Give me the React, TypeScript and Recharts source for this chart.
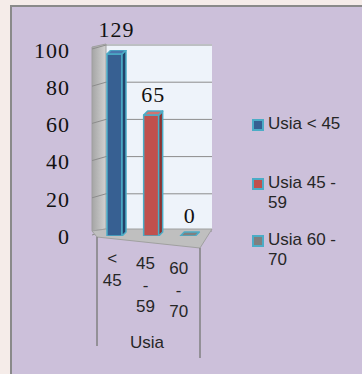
import { BarChart, Bar, XAxis, YAxis, Legend, LabelList, ReferenceArea } from 'recharts'

const categories = ['< 45', '45 - 59', '60 - 70']
const seriesNames = ['Usia < 45', 'Usia 45 - 59', 'Usia 60 - 70']
const seriesValues = [129, 65, 0]
const yTicks = [0, 20, 40, 60, 80, 100]
const axisTitle = 'Usia'

const SANS = "'Liberation Sans', Arial, sans-serif"
const SERIF = "'Liberation Serif', 'Times New Roman', serif"
const EDGE = '#4BACC6'
const PLOT_TOP = 50

const palette = [
  { front: '#376092', side: '#22426A', top: '#4A77AE' },
  { front: '#C0504D', side: '#8C3331', top: '#D27370' },
  { front: '#7F7F7F', side: '#5E5E5E', top: '#808080' },
]

// one row per category, each series only has a value in its own column
const data = categories.map((name, i) => {
  const row: Record<string, string | number | null> = { name }
  seriesNames.forEach((_, j) => {
    row['s' + j] = i === j ? seriesValues[j] : null
  })
  return row
})

function Walls(props: any) {
  const { x, y, width, height } = props
  const B = y + height
  const R = x + width
  const max = yTicks[yTicks.length - 1]
  return (
    <g>
      <defs>
        <linearGradient id="lw" x1="0" y1="0" x2="1" y2="0">
          <stop offset="0%" stopColor="#A5A5A5" />
          <stop offset="100%" stopColor="#D2D2D2" />
        </linearGradient>
      </defs>
      <rect x={x + 10} y={y - 6} width={width - 4} height={height - 1} fill="#EEF3FA" />
      <polygon
        points={`${x - 4},${y - 3} ${x + 10},${y - 6} ${x + 10},${B - 7} ${x - 4},${B - 5}`}
        fill="url(#lw)"
        stroke="#A0A0A0"
      />
      {yTicks.map((t) => {
        const yy = B - (height * t) / max
        return (
          <path
            key={t}
            d={`M${x - 4},${yy - 1} L${x + 10},${yy - 5} L${R + 6},${yy - 5}`}
            fill="none"
            stroke="#8C8C8C"
            strokeWidth={1}
          />
        )
      })}
      <polygon
        points={`${x - 4},${B - 5} ${x + 10},${B - 7} ${R + 6},${B - 7} ${R - 6},${B + 12} ${x + 1},${B + 1}`}
        fill="#BFBFBF"
        stroke="#A0A0A0"
      />
      <line x1={x + 1} y1={B + 1} x2={x + 1} y2={B + 110} stroke="#808080" strokeWidth={1.5} />
      <line x1={R - 6} y1={B + 12} x2={R - 6} y2={B + 122} stroke="#808080" strokeWidth={1.5} />
    </g>
  )
}

function Box3D(props: any) {
  const { x, y, width, height, payload, k, c } = props
  if (payload == null || payload[k] == null) return null
  const d = 4
  // bars above the axis max are cut at the top of the plot, keep the cap visible
  const top = Math.max(y, PLOT_TOP + 4)
  const h = y + height - top
  return (
    <g stroke={EDGE} strokeWidth={1.5} strokeLinejoin="round">
      {h > 0 && <rect x={x} y={top} width={width} height={h} fill={c.front} />}
      {h > 0 && (
        <polygon
          points={`${x + width},${top} ${x + width + d},${top - d} ${x + width + d},${top + h - d} ${x + width},${top + h}`}
          fill={c.side}
        />
      )}
      <polygon
        points={`${x},${top} ${x + d},${top - d} ${x + width + d},${top - d} ${x + width},${top}`}
        fill={c.top}
      />
    </g>
  )
}

function ValueLabel(props: any) {
  const { x, y, width, value } = props
  if (value == null) return null
  const top = Math.max(Number(y), PLOT_TOP)
  return (
    <text
      x={Number(x) + Number(width) / 2 + 2}
      y={top - 21}
      dy="0.35em"
      textAnchor="middle"
      fontFamily={SERIF}
      fontSize={22}
      letterSpacing={1}
      fill="#111"
    >
      {value}
    </text>
  )
}

function YTick(props: any) {
  const { x, y, payload } = props
  return (
    <text x={x} y={y} dy="0.35em" textAnchor="end" fontFamily={SERIF} fontSize={22} letterSpacing={1} fill="#111">
      {payload.value}
    </text>
  )
}

function XTick(props: any) {
  const { x, y, payload, index } = props
  const words = String(payload.value).split(' ')
  const dx = -2 - index * 3.5
  const base = y + 28 + index * 5
  return (
    <text textAnchor="middle" fontFamily={SANS} fontSize={17} fill="#262626">
      {words.map((w, i) => (
        <tspan key={i} x={x + dx} y={base + i * 21.5}>
          {w}
        </tspan>
      ))}
    </text>
  )
}

function AxisTitle(props: any) {
  const { viewBox } = props
  return (
    <text
      x={viewBox.x + viewBox.width / 2 - 4}
      y={viewBox.y + 112}
      textAnchor="middle"
      fontFamily={SANS}
      fontSize={17}
      fill="#262626"
    >
      {axisTitle}
    </text>
  )
}

function LegendBox(props: any) {
  const gaps = [0, 39, 17]
  const items = props.payload || []
  return (
    <div style={{ fontFamily: SANS, fontSize: 17, color: '#262626', lineHeight: '20px' }}>
      {items.map((item: any, i: number) => (
        <div key={i} style={{ display: 'flex', alignItems: 'flex-start', marginTop: gaps[i] }}>
          <span
            style={{
              width: 8,
              height: 8,
              border: `2px solid ${EDGE}`,
              background: item.color,
              marginTop: 5,
              marginRight: 4,
              flex: 'none',
            }}
          />
          <span style={{ width: 82 }}>{item.value}</span>
        </div>
      ))}
    </div>
  )
}

export default function App() {
  return (
    <div style={{ position: 'absolute', left: 0, top: 0, width: 362, height: 374, background: '#F5ECE9', overflow: 'hidden' }}>
      <div
        style={{
          position: 'absolute',
          left: 10,
          top: 5,
          width: 360,
          height: 380,
          background: '#CCC0DA',
          borderLeft: '2px solid #8A8A8A',
          borderTop: '2px solid #8A8A8A',
        }}
      />
      <div style={{ position: 'absolute', left: 0, top: 0 }}>
        <BarChart width={362} height={374} data={data} margin={{ top: PLOT_TOP, right: 156, bottom: 18, left: 10 }}>
          <ReferenceArea y1={0} y2={100} shape={Walls} ifOverflow="visible" zIndex={-10} />
          <XAxis
            dataKey="name"
            axisLine={false}
            tickLine={false}
            tickSize={0}
            tickMargin={0}
            height={120}
            interval={0}
            tick={XTick}
            label={<AxisTitle />}
          />
          <YAxis
            type="number"
            domain={[0, 100]}
            allowDataOverflow
            ticks={yTicks}
            axisLine={false}
            tickLine={false}
            tickSize={0}
            tickMargin={26}
            width={86}
            tick={YTick}
          />
          <Legend
            layout="vertical"
            align="center"
            verticalAlign="middle"
            itemSorter="dataKey"
            wrapperStyle={{ left: 252, top: 114, width: 105 }}
            content={LegendBox}
          />
          {seriesNames.map((s, j) => (
            <Bar
              key={s}
              dataKey={'s' + j}
              name={s}
              stackId="a"
              barSize={15}
              fill={palette[j].front}
              isAnimationActive={false}
              shape={(p: any) => <Box3D {...p} k={'s' + j} c={palette[j]} />}
            >
              <LabelList dataKey={'s' + j} content={ValueLabel} />
            </Bar>
          ))}
        </BarChart>
      </div>
    </div>
  )
}
